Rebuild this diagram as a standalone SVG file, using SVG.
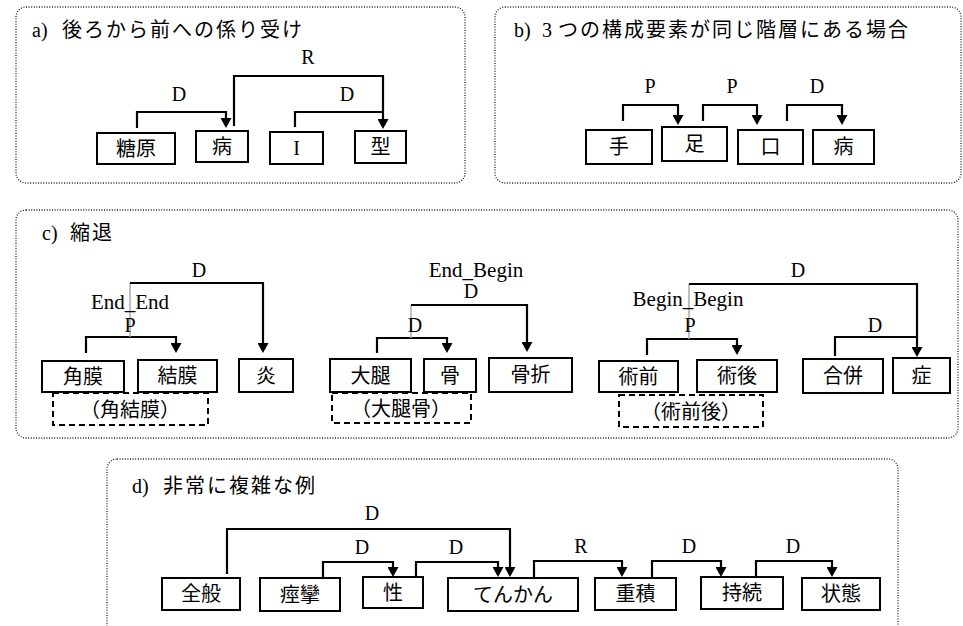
<svg xmlns="http://www.w3.org/2000/svg" width="963" height="626" viewBox="0 0 963 626">
<defs>
<marker id="arr" viewBox="0 0 10 11" markerUnits="userSpaceOnUse" markerWidth="10" markerHeight="11" refX="7" refY="5.5" orient="auto">
<path d="M0,0 L10,5.5 L0,11 z" fill="#000"/>
</marker>
<style>
.panel{fill:none;stroke:#222;stroke-width:1.3;stroke-dasharray:1 1.6}
.box{fill:#fff;stroke:#000;stroke-width:2}
.dbox{fill:none;stroke:#000;stroke-width:2;stroke-dasharray:6 4}
.ntext{font-family:"Liberation Serif","Noto Sans CJK JP",serif;font-size:20px;fill:#000;text-anchor:middle}
.title{font-family:"Liberation Serif","Noto Sans CJK JP",serif;font-size:20px;fill:#000}
.cjk{letter-spacing:2px}
.lbl{font-family:"Liberation Serif",serif;font-size:20px;fill:#000;text-anchor:middle}
.lbl2{font-family:"Liberation Serif",serif;font-size:21px;fill:#000;text-anchor:middle}
.conn{fill:none;stroke:#000;stroke-width:2.2}
.arr{marker-end:url(#arr)}
.gray{fill:none;stroke:#aaa;stroke-width:1.5}
</style>
</defs>
<rect width="963" height="626" fill="#fff"/>

<g id="panels">
<rect class="panel" x="16" y="7" width="449" height="176" rx="10"/>
<rect class="panel" x="495" y="7" width="466" height="176" rx="10"/>
<rect class="panel" x="16" y="210" width="942" height="228" rx="10"/>
<rect class="panel" x="107" y="459" width="791" height="200" rx="10"/>
</g>

<g id="titles">
<text class="title" x="32" y="37">a)<tspan class="cjk" x="62">後ろから前への係り受け</tspan></text>
<text class="title" x="514" y="37">b)<tspan x="542">3</tspan><tspan class="cjk" x="558">つの構成要素が同じ階層にある場合</tspan></text>
<text class="title" x="42" y="240">c)<tspan class="cjk" x="70">縮退</tspan></text>
<text class="title" x="132" y="493">d)<tspan class="cjk" x="163">非常に複雑な例</tspan></text>
</g>

<g id="connectors">
<path class="conn arr" d="M137,128 V112 H226 V125"/>
<path class="conn" d="M234,126 V76 H383 V112"/>
<path class="conn arr" d="M295,127 V112 H383 V126"/>
<path class="conn arr" d="M623,121 V105 H678 V122"/>
<path class="conn arr" d="M703,121 V105 H757 V122"/>
<path class="conn arr" d="M787,121 V105 H842 V122"/>
<path class="conn arr" d="M86,353 V337 H176 V350"/>
<path class="gray" d="M130,337 V283"/>
<path class="conn arr" d="M130,283 H263 V350"/>
<path class="conn arr" d="M377,353 V338 H447 V350"/>
<path class="gray" d="M411,338 V305"/>
<path class="conn arr" d="M411,305 H527 V349"/>
<path class="conn arr" d="M647,355 V339 H737 V352"/>
<path class="gray" d="M689,339 V284"/>
<path class="conn" d="M689,284 H917 V337"/>
<path class="conn arr" d="M835,356 V337 H917 V354"/>
<path class="conn arr" d="M227,574 V529 H510 V574"/>
<path class="conn arr" d="M323,577 V562 H393 V574"/>
<path class="conn arr" d="M416,577 V562 H498 V574"/>
<path class="conn arr" d="M534,577 V561 H622 V574"/>
<path class="conn arr" d="M652,577 V561 H721 V574"/>
<path class="conn arr" d="M756,577 V561 H832 V574"/>
</g>

<g id="labels">
<text class="lbl" x="179" y="101">D</text>
<text class="lbl" x="308" y="64">R</text>
<text class="lbl" x="347" y="101">D</text>
<text class="lbl" x="650" y="93">P</text>
<text class="lbl" x="732" y="93">P</text>
<text class="lbl" x="817" y="93">D</text>
<text class="lbl" x="199" y="277">D</text>
<text class="lbl2" x="130" y="309">End_End</text>
<text class="lbl" x="130" y="332">P</text>
<text class="lbl2" x="476" y="277">End_Begin</text>
<text class="lbl" x="471" y="298">D</text>
<text class="lbl" x="415" y="332">D</text>
<text class="lbl" x="798" y="277">D</text>
<text class="lbl2" x="688" y="306">Begin_Begin</text>
<text class="lbl" x="690" y="332">P</text>
<text class="lbl" x="875" y="332">D</text>
<text class="lbl" x="372" y="520">D</text>
<text class="lbl" x="362" y="554">D</text>
<text class="lbl" x="456" y="554">D</text>
<text class="lbl" x="581" y="553">R</text>
<text class="lbl" x="689" y="553">D</text>
<text class="lbl" x="793" y="553">D</text>
</g>

<g id="a_tougen"><rect class="box" x="97" y="133" width="78" height="31"/><text class="ntext" x="136" y="156">糖原</text></g>
<g id="a_byou"><rect class="box" x="196" y="131" width="52" height="31"/><text class="ntext" x="222" y="154">病</text></g>
<g id="a_I"><rect class="box" x="270" y="132" width="53" height="32"/><text class="ntext" x="296.5" y="155">I</text></g>
<g id="a_kata"><rect class="box" x="355" y="131" width="51" height="32"/><text class="ntext" x="380.5" y="154">型</text></g>

<g id="b_te"><rect class="box" x="586" y="130" width="66" height="34"/><text class="ntext" x="619" y="154">手</text></g>
<g id="b_ashi"><rect class="box" x="662" y="127" width="65" height="34"/><text class="ntext" x="694.5" y="151">足</text></g>
<g id="b_kuchi"><rect class="box" x="738" y="130" width="65" height="34"/><text class="ntext" x="770.5" y="154">口</text></g>
<g id="b_byou"><rect class="box" x="813" y="130" width="61" height="34"/><text class="ntext" x="843.5" y="154">病</text></g>

<g id="c_kakumaku"><rect class="box" x="42" y="361" width="82" height="31"/><text class="ntext" x="83" y="384">角膜</text></g>
<g id="c_ketsumaku"><rect class="box" x="138" y="360" width="79" height="32"/><text class="ntext" x="177.5" y="383">結膜</text></g>
<g id="c_en"><rect class="box" x="239" y="359" width="54" height="33"/><text class="ntext" x="266" y="383">炎</text></g>
<g id="c_kakuketsumaku"><rect class="dbox" x="53" y="393" width="155" height="32"/><text class="ntext" x="130" y="417">（角結膜）</text></g>

<g id="c_daitai"><rect class="box" x="330" y="359" width="81" height="33"/><text class="ntext" x="370.5" y="383">大腿</text></g>
<g id="c_hone"><rect class="box" x="424" y="359" width="52" height="33"/><text class="ntext" x="450" y="383">骨</text></g>
<g id="c_kossetsu"><rect class="box" x="489" y="358" width="83" height="34"/><text class="ntext" x="530.5" y="382">骨折</text></g>
<g id="c_daitaikotsu"><rect class="dbox" x="332" y="393" width="139" height="30"/><text class="ntext" x="401" y="416">（大腿骨）</text></g>

<g id="c_jutsuzen"><rect class="box" x="599" y="361" width="79" height="31"/><text class="ntext" x="638.5" y="384">術前</text></g>
<g id="c_jutsugo"><rect class="box" x="697" y="360" width="80" height="32"/><text class="ntext" x="737" y="383">術後</text></g>
<g id="c_gappei"><rect class="box" x="803" y="359" width="80" height="34"/><text class="ntext" x="843" y="383">合併</text></g>
<g id="c_shou"><rect class="box" x="893" y="358" width="57" height="35"/><text class="ntext" x="921.5" y="383">症</text></g>
<g id="c_jutsuzengo"><rect class="dbox" x="619" y="395" width="144" height="32"/><text class="ntext" x="691" y="419">（術前後）</text></g>

<g id="d_zenpan"><rect class="box" x="162" y="578" width="78" height="32"/><text class="ntext" x="201" y="601">全般</text></g>
<g id="d_keiren"><rect class="box" x="260" y="578" width="80" height="33"/><text class="ntext" x="300" y="602">痙攣</text></g>
<g id="d_sei"><rect class="box" x="363" y="577" width="60" height="31"/><text class="ntext" x="393" y="600">性</text></g>
<g id="d_tenkan"><rect class="box" x="448" y="578" width="130" height="33"/><text class="ntext" x="513" y="602">てんかん</text></g>
<g id="d_juuseki"><rect class="box" x="595" y="578" width="81" height="32"/><text class="ntext" x="635.5" y="601">重積</text></g>
<g id="d_jizoku"><rect class="box" x="701" y="577" width="82" height="32"/><text class="ntext" x="742" y="600">持続</text></g>
<g id="d_joutai"><rect class="box" x="802" y="578" width="78" height="32"/><text class="ntext" x="841" y="601">状態</text></g>
</svg>
